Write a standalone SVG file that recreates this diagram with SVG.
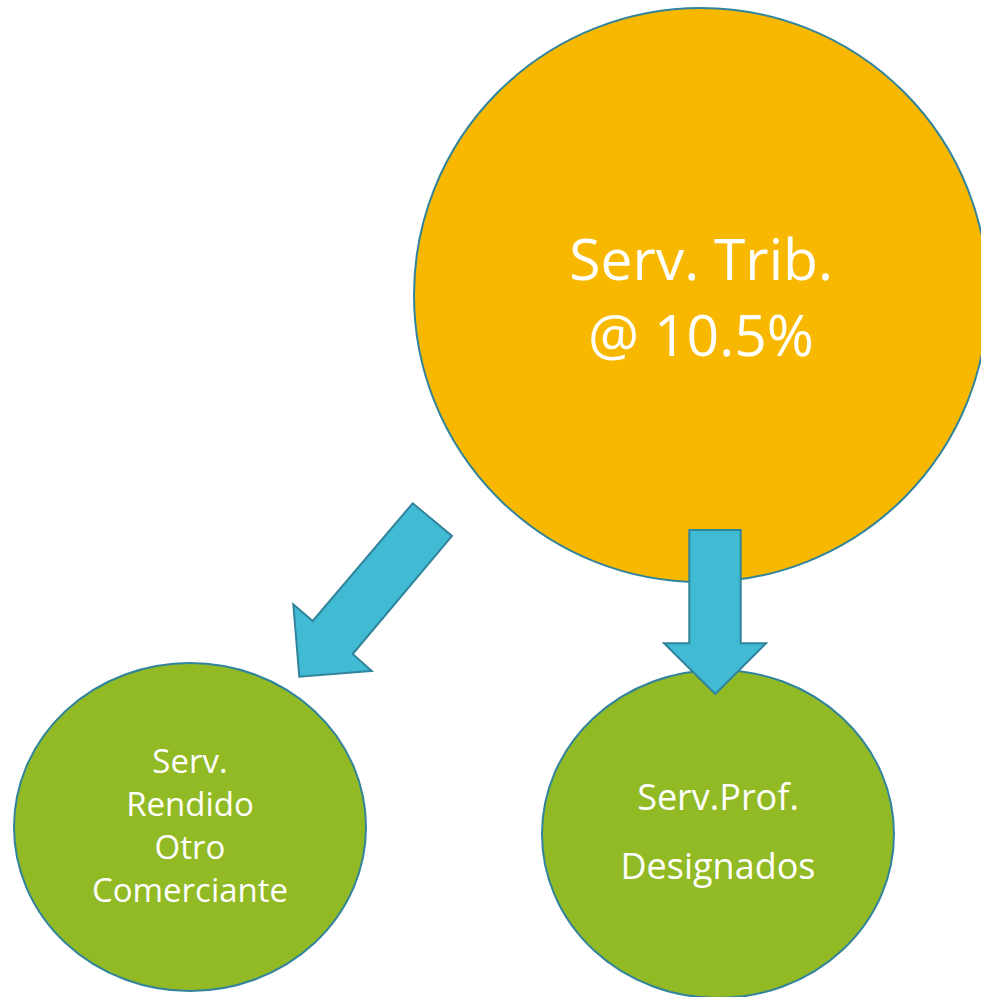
<svg xmlns="http://www.w3.org/2000/svg" width="981" height="997" viewBox="0 0 981 997">
<style>
.node{stroke:#31849B;stroke-width:2}
.orange{fill:#F9B800}
.green{fill:#92BA24}
.arrow{fill:#41BAD3;stroke:#31849B;stroke-width:2;stroke-linejoin:miter}
.t{font-family:"Open Sans","Noto Sans","Liberation Sans",sans-serif;fill:#FFFFFF;text-anchor:middle}
.big{font-size:57px}
.small{font-size:33px}
.med{font-size:36px}
</style>
<rect width="981" height="997" fill="#FFFFFF"/>
<g id="node-trib">
<circle class="node orange" cx="701" cy="295" r="287"/>
<text class="t big" x="701" y="280">Serv. Trib.</text>
<text class="t big" x="701" y="356">@ 10.5%</text>
</g>
<g id="node-rendido">
<ellipse class="node green" cx="190" cy="827" rx="176" ry="164"/>
<text class="t small" x="190" y="773">Serv.</text>
<text class="t small" x="190" y="816">Rendido</text>
<text class="t small" x="190" y="859">Otro</text>
<text class="t small" x="190" y="902">Comerciante</text>
</g>
<g id="node-prof">
<ellipse class="node green" cx="718" cy="834" rx="176" ry="164"/>
<text class="t med" x="718" y="810">Serv.Prof.</text>
<text class="t med" x="718" y="879">Designados</text>
</g>
<g id="connectors">
<polygon class="arrow" points="412.7,503.3 452,536 352.7,654 371.7,671 299.3,676.7 293.3,604.3 312.7,621"/>
<polygon class="arrow" points="689.3,530 740.7,530 740.7,643.3 766,643.3 715.3,694 664,643.3 689.3,643.3"/>
</g>
</svg>
